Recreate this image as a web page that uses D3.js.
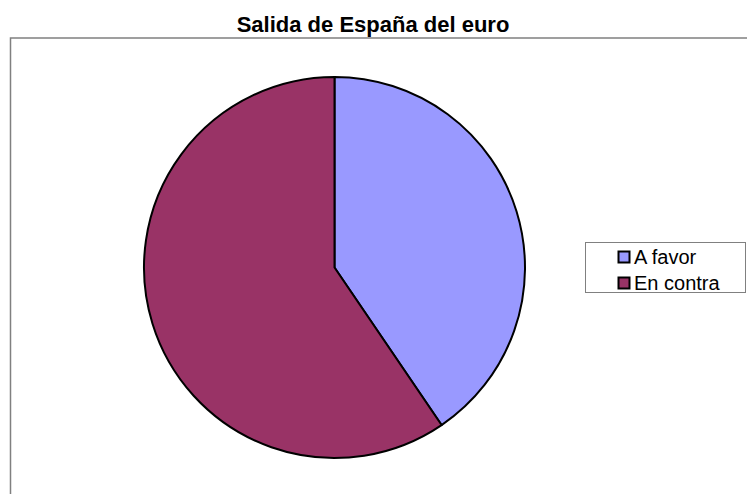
<!DOCTYPE html>
<html>
<head>
<meta charset="utf-8">
<script src="https://cdn.jsdelivr.net/npm/d3@7"></script>
<style>
  body { margin: 0; background: #fff; }
  svg { display: block; font-family: "Liberation Sans", Arial, sans-serif; }
</style>
</head>
<body>
<div id="chart"></div>
<script>
// chart data
var categories = ["A favor", "En contra"];
var values = [40.5, 59.5];
var colors = ["#9999ff", "#993366"];

var width = 747, height = 494;

var svg = d3.select("#chart")
    .append("svg")
    .attr("width", width)
    .attr("height", height);

// plot area frame (open to right and bottom like the original)
svg.append("path")
    .attr("d", "M10.5," + height + "V38H" + width)
    .attr("fill", "none")
    .attr("stroke", "#808080")
    .attr("stroke-width", 1.5);

// title
svg.append("text")
    .attr("x", 373)
    .attr("y", 32)
    .attr("text-anchor", "middle")
    .attr("font-size", "22px")
    .attr("font-weight", "bold")
    .text("Salida de España del euro");

// pie
var cx = 334.5, cy = 267.5, radius = 190.5;
var pie = d3.pie().sort(null).value(function (d) { return d; });
var arc = d3.arc().innerRadius(0).outerRadius(radius);

var g = svg.append("g").attr("transform", "translate(" + cx + "," + cy + ")");
g.selectAll("path")
    .data(pie(values))
    .enter()
    .append("path")
    .attr("d", arc)
    .attr("fill", function (d, i) { return colors[i]; })
    .attr("stroke", "#000")
    .attr("stroke-width", 2)
    .attr("stroke-linejoin", "round");

// legend
var legend = svg.append("g");
legend.append("rect")
    .attr("x", 585.5)
    .attr("y", 242.5)
    .attr("width", 160)
    .attr("height", 50)
    .attr("fill", "#fff")
    .attr("stroke", "#808080")
    .attr("stroke-width", 1);

var items = legend.selectAll("g.item")
    .data(categories)
    .enter()
    .append("g")
    .attr("class", "item")
    .attr("transform", function (d, i) { return "translate(618," + (257 + i * 26) + ")"; });

items.append("rect")
    .attr("x", 0.5)
    .attr("y", -5.5)
    .attr("width", 11)
    .attr("height", 11)
    .attr("fill", function (d, i) { return colors[i]; })
    .attr("stroke", "#000")
    .attr("stroke-width", 2);

items.append("text")
    .attr("x", 16)
    .attr("y", 7)
    .attr("font-size", "20px")
    .text(function (d) { return d; });
</script>
</body>
</html>
